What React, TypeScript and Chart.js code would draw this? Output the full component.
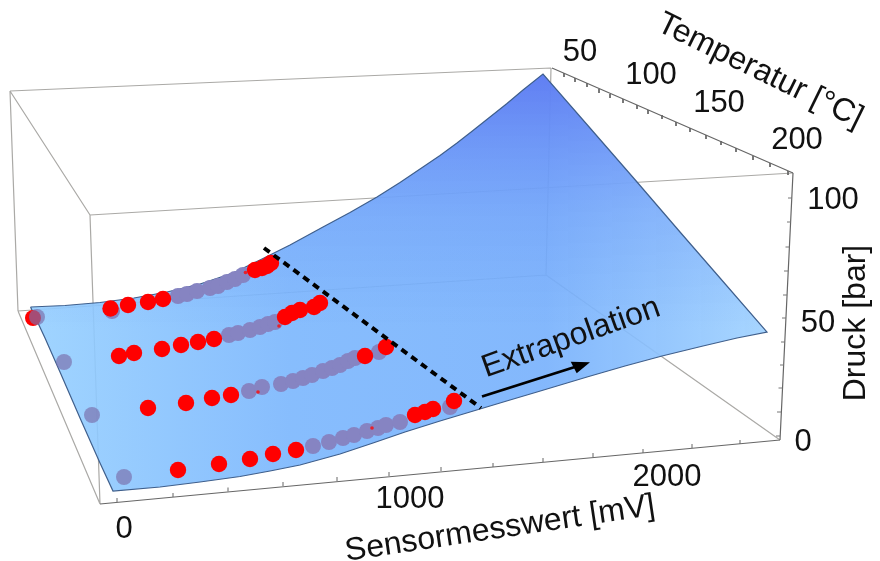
import React, { useEffect, useRef } from "react";
import { Chart, registerables } from "chart.js";

Chart.register(...registerables);

type P = [number, number];

// everything is expressed in the plane of the projected 3D picture
const boxEdges: P[][] = [
  [[10, 91], [551, 68]],
  [[10, 91], [90, 215]],
  [[90, 215], [793, 173]],
  [[10, 91], [18, 311]],
  [[90, 215], [100, 504]],
  [[551, 68], [546, 275]],
  [[18, 311], [100, 504]],
  [[18, 311], [546, 275]],
  [[546, 275], [780, 440]],
];
const axisEdges: P[][] = [
  [[100, 504], [780, 440]],
  [[552, 68], [793, 173]],
  [[793, 173], [780, 440]],
];
const surfaceOutline: P[] = [
  [30.5, 307], [65, 305.5], [100, 302.5], [134, 298], [167, 292], [200, 284], [233, 273], [262, 259], [290, 245],
  [323, 227], [350, 212.5], [377, 197], [400, 182.5], [423, 167], [440, 155.5], [457, 143], [473, 130.5], [490, 117], [507, 103.5], [523, 90], [543, 74],
  [590, 128], [637, 182], [680, 232], [720, 278], [767, 332],
  [737, 338], [703, 346], [662, 356], [625, 366], [587, 377], [537, 392], [510, 400], [480, 409], [440, 421], [405, 432], [373, 443], [340, 454],
  [300, 465], [270, 471], [240, 476.5], [200, 482], [160, 487], [113, 491],
  [100, 463], [80, 418], [60, 372], [45, 338], [30.5, 307],
];
const redBehind: P[] = [[33, 318]];
const paleGrayPoints: P[] = [[37, 317], [64, 362], [92, 415], [124, 477]];
const grayPoints: P[] = [
  [112, 311],
  [178, 296], [187, 294], [197, 291], [210, 288], [218, 286], [227, 282], [235, 279], [243, 275],
  [229, 335], [238, 333], [250, 330], [260, 327], [268, 324], [275, 322],
  [249, 391], [262, 387], [281, 384], [293, 381], [303, 378], [312, 375], [323, 371], [332, 368], [340, 365], [348, 361], [355, 358], [379, 352],
  [313, 446], [329, 442], [343, 438], [354, 435], [367, 431], [378, 428], [386, 425], [400, 422], [450, 407],
];
const redPoints: P[] = [
  [110.5, 308.5], [128, 305], [148, 302], [163, 299], [255, 270], [262, 268], [267, 266], [271, 263],
  [119, 356], [134, 353], [162, 349], [181, 345], [198, 342], [214, 339],
  [285, 317], [292, 313], [300, 310], [314, 307], [320, 303],
  [148, 408], [186, 403], [212, 398], [231, 395], [365, 356], [386, 347],
  [178, 470], [219, 464], [250, 459], [273, 454], [296, 450], [415, 415], [425, 412], [433, 409], [454, 401],
];
const redSlivers: P[] = [[245.5, 272.5], [279, 326], [258, 392], [372, 428]];
const cutLine: P[] = [[264, 248], [481, 408]];
const arrowShaft: P[] = [[482, 396.5], [578, 366]];
const arrowHead: P[] = [[590, 362.3], [570.7, 361.7], [576.7, 373.3], [590, 362.3]];

const sensorTicks: P[] = [
  [117, 502], [173, 497], [228, 491.5], [283, 486], [337, 481], [389, 476], [441, 471],
  [493, 467], [543, 462], [593, 457], [643, 453], [692, 448], [740, 444],
];
const tempTicks: P[] = [
  [564, 73], [575, 78], [587, 83], [599, 89], [610, 94], [623, 99], [637, 105], [648, 110], [662, 115],
  [676, 122], [690, 128], [706, 135], [721, 141], [736, 148], [753, 156], [770, 163], [788, 171],
];
const pressureTicks: P[] = [
  [792, 198], [791, 222], [789.5, 247], [788, 271], [787, 295], [786, 318], [785, 342], [784, 365], [782.5, 388], [781, 412], [780, 436],
];

const tickLabels: [string, number, number][] = [
  ["50", 580, 52], ["100", 651, 75], ["150", 719, 103], ["200", 797, 140],
  ["100", 833, 200], ["50", 818, 323], ["0", 803, 442],
  ["0", 124, 529], ["1000", 410, 499], ["2000", 667, 477],
];
const axisTitles: [string, number, number, number][] = [
  ["Temperatur [°C]", 760, 71, 26],
  ["Sensormesswert [mV]", 500, 529, -8.5],
  ["Druck [bar]", 856, 323, -90],
  ["Extrapolation", 571, 338, -19.5],
];

const xy = (pts: P[]) => pts.map(([x, y]) => ({ x, y }));
const segments = (groups: P[][]) =>
  groups.flatMap((g) => [...xy(g), { x: NaN, y: NaN }]);
const tickSegs = (pts: P[], dx: number, dy: number) =>
  segments(pts.map(([x, y]) => [[x, y], [x + dx, y + dy]] as P[]));

const line = (data: any[], color: string, width: number, order: number, extra: any = {}) => ({
  data,
  showLine: true,
  borderColor: color,
  borderWidth: width,
  pointRadius: 0,
  tension: 0,
  fill: false,
  order,
  ...extra,
});
const dots = (pts: P[], color: string, radius: number, order: number) => ({
  data: xy(pts),
  showLine: false,
  backgroundColor: color,
  borderWidth: 0,
  pointRadius: radius,
  pointHoverRadius: radius,
  order,
});

const textPlugin = {
  id: "pictureText",
  afterDatasetsDraw(chart: any) {
    const { ctx, scales } = chart;
    ctx.save();
    ctx.fillStyle = "#111";
    ctx.textAlign = "center";
    ctx.textBaseline = "middle";
    ctx.font = '31px "Liberation Sans"';
    tickLabels.forEach(([t, x, y]) => {
      ctx.fillText(t, scales.x.getPixelForValue(x), scales.y.getPixelForValue(y));
    });
    ctx.font = '32px "Liberation Sans"';
    axisTitles.forEach(([t, x, y, rot]) => {
      ctx.save();
      ctx.translate(scales.x.getPixelForValue(x), scales.y.getPixelForValue(y));
      ctx.rotate((rot * Math.PI) / 180);
      ctx.fillText(t, 0, 0);
      ctx.restore();
    });
    ctx.restore();
  },
};

export default function App() {
  const ref = useRef<HTMLCanvasElement>(null);
  useEffect(() => {
    document.body.style.margin = "0";
    const baseFill = (c: any) => {
      const g = c.chart.ctx.createLinearGradient(30, 0, 767, 0);
      g.addColorStop(0, "rgba(150,208,255,0.9)");
      g.addColorStop(0.35, "rgba(122,182,253,0.9)");
      g.addColorStop(0.7, "rgba(118,176,252,0.9)");
      g.addColorStop(1, "rgba(160,210,255,0.92)");
      return g;
    };
    const shadeFill = (c: any) => {
      const g = c.chart.ctx.createLinearGradient(0, 74, 0, 330);
      g.addColorStop(0, "rgba(88,112,240,0.8)");
      g.addColorStop(0.55, "rgba(100,140,245,0.3)");
      g.addColorStop(1, "rgba(100,150,245,0)");
      return g;
    };
    const chart = new Chart(ref.current!, {
      type: "scatter",
      data: {
        datasets: [
          line(segments(boxEdges), "#aaa9a6", 1.2, 20),
          line(xy(surfaceOutline), "rgba(0,0,0,0)", 0, 18, { fill: "shape", backgroundColor: baseFill }),
          line(xy(surfaceOutline), "#3f5f8c", 1.2, 17, { fill: "shape", backgroundColor: shadeFill }),
          line(segments(axisEdges), "#666", 1.2, 16),
          line(tickSegs(sensorTicks, 0, -4), "#666", 1, 15),
          line(tickSegs(tempTicks, 0, 4), "#666", 1, 15),
          line(tickSegs(pressureTicks, -4, 0), "#777", 1, 15),
          dots(redBehind, "#ff0000", 8, 12),
          dots(paleGrayPoints, "rgba(122,112,172,0.68)", 8, 11),
          dots(grayPoints, "#8684c2", 8, 11),
          dots(redPoints, "#ff0000", 8.2, 10),
          dots(redSlivers, "#e8202a", 1.8, 9),
          line(xy(cutLine), "#000", 4, 5, { borderDash: [7, 5.2] }),
          line(xy(arrowShaft), "#000", 2.8, 4),
          line(xy(arrowHead), "#000", 0, 3, { fill: "shape", backgroundColor: "#000" }),
        ] as any,
      },
      options: {
        animation: false,
        responsive: false,
        events: [],
        layout: { padding: 0, autoPadding: false },
        plugins: { legend: { display: false }, tooltip: { enabled: false } },
        scales: {
          x: { type: "linear", min: 0, max: 880, display: false },
          y: { type: "linear", min: 0, max: 561, reverse: true, display: false },
        },
      },
      plugins: [textPlugin],
    });
    return () => chart.destroy();
  }, []);
  return <canvas ref={ref} width={880} height={561} style={{ display: "block", width: 880, height: 561 }} />;
}
